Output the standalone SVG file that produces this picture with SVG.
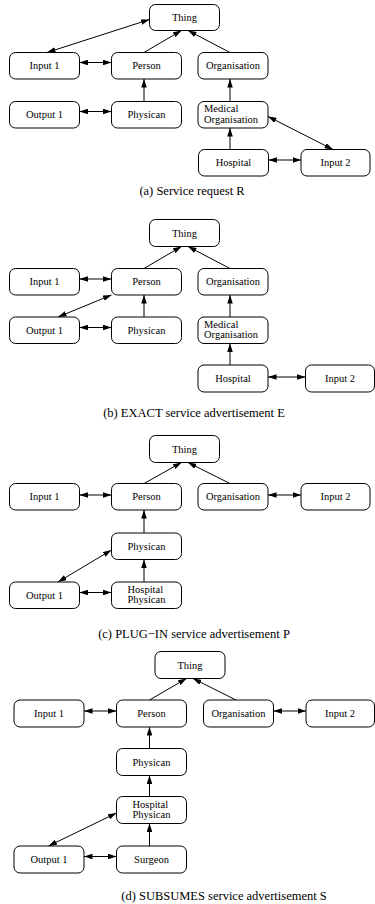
<svg xmlns="http://www.w3.org/2000/svg" width="375" height="904" viewBox="0 0 375 904">
<style>
rect.n{fill:#fff;stroke:#000;stroke-width:1}
text{font-family:"Liberation Serif","Times New Roman",serif;font-size:10.5px;fill:#000}
text.c{text-anchor:middle}
text.cap{font-size:12.5px;text-anchor:middle}
#edges line{stroke:#000;stroke-width:1}
.s{marker-end:url(#ah)}
.d{marker-start:url(#ah);marker-end:url(#ah)}
</style>
<defs>
<marker id="ah" viewBox="0 0 8.5 5.6" refX="8.5" refY="2.8" markerWidth="8.5" markerHeight="5.6" markerUnits="userSpaceOnUse" orient="auto-start-reverse">
<path d="M0,0 L8.5,2.8 L0,5.6 z" fill="#000"/>
</marker>
</defs>
<rect width="375" height="904" fill="#fff"/>

<g id="edges">
<!-- panel a -->
<line class="d" x1="47" y1="52.5" x2="149.5" y2="19.5"/>
<line class="s" x1="144" y1="52.5" x2="181.5" y2="30.5"/>
<line class="s" x1="230" y1="52.5" x2="188" y2="30.5"/>
<line class="d" x1="79.5" y1="62.5" x2="111.5" y2="62.5"/>
<line class="s" x1="144" y1="101.5" x2="144" y2="79"/>
<line class="d" x1="79.5" y1="111.5" x2="111.5" y2="111.5"/>
<line class="s" x1="230" y1="101.5" x2="230" y2="79"/>
<line class="s" x1="230" y1="149.5" x2="230" y2="128"/>
<line class="d" x1="268" y1="116.5" x2="333" y2="149.5"/>
<line class="d" x1="268.5" y1="160" x2="301" y2="160"/>
<!-- panel b -->
<line class="s" x1="144" y1="268.5" x2="181.5" y2="246.5"/>
<line class="s" x1="230" y1="268.5" x2="188" y2="246.5"/>
<line class="d" x1="79.5" y1="279" x2="111.5" y2="279"/>
<line class="d" x1="58" y1="317" x2="111.5" y2="295"/>
<line class="s" x1="144" y1="317" x2="144" y2="295"/>
<line class="d" x1="79.5" y1="327.5" x2="111.5" y2="327.5"/>
<line class="s" x1="230" y1="317" x2="230" y2="295"/>
<line class="s" x1="230" y1="365" x2="230" y2="343.5"/>
<line class="d" x1="268" y1="377" x2="305.5" y2="377"/>
<!-- panel c -->
<line class="s" x1="144" y1="483.5" x2="181.5" y2="462.5"/>
<line class="s" x1="230" y1="483.5" x2="188" y2="462.5"/>
<line class="d" x1="79.5" y1="495" x2="111.5" y2="495"/>
<line class="d" x1="268" y1="495" x2="301" y2="495"/>
<line class="s" x1="144" y1="533" x2="144" y2="510"/>
<line class="s" x1="144" y1="582" x2="144" y2="559.5"/>
<line class="d" x1="58" y1="582" x2="111.5" y2="550"/>
<line class="d" x1="79.5" y1="592.5" x2="111.5" y2="592.5"/>
<!-- panel d -->
<line class="s" x1="149.5" y1="700" x2="186.5" y2="678.5"/>
<line class="s" x1="236" y1="700" x2="193" y2="678.5"/>
<line class="d" x1="84" y1="711" x2="116.5" y2="711"/>
<line class="d" x1="273.5" y1="711" x2="306" y2="711"/>
<line class="s" x1="149.5" y1="748.5" x2="149.5" y2="727"/>
<line class="s" x1="149.5" y1="796.5" x2="149.5" y2="775.5"/>
<line class="d" x1="48.5" y1="846" x2="116.5" y2="813"/>
<line class="d" x1="84" y1="856.5" x2="116.5" y2="856.5"/>
<line class="s" x1="149.5" y1="846" x2="149.5" y2="823.5"/>
</g>

<!-- panel a nodes -->
<g id="a-thing"><rect class="n" x="149.5" y="4.5" width="70" height="26" rx="6"/><text class="c" x="184.5" y="21">Thing</text></g>
<g id="a-input1"><rect class="n" x="9.5" y="52.5" width="70" height="26.5" rx="6"/><text class="c" x="44.5" y="69">Input 1</text></g>
<g id="a-person"><rect class="n" x="111.5" y="52.5" width="70" height="26.5" rx="6"/><text class="c" x="146.5" y="69">Person</text></g>
<g id="a-organisation"><rect class="n" x="198" y="52.5" width="70" height="26.5" rx="6"/><text class="c" x="233" y="69">Organisation</text></g>
<g id="a-output1"><rect class="n" x="9.5" y="101.5" width="70" height="26.5" rx="6"/><text class="c" x="44.5" y="118">Output 1</text></g>
<g id="a-physican"><rect class="n" x="111.5" y="101.5" width="70" height="26.5" rx="6"/><text class="c" x="146.5" y="118">Physican</text></g>
<g id="a-medorg"><rect class="n" x="198" y="101.5" width="70" height="26.5" rx="6"/><text x="204" y="112">Medical</text><text x="204" y="122.5">Organisation</text></g>
<g id="a-hospital"><rect class="n" x="198.5" y="149.5" width="70" height="26.5" rx="6"/><text class="c" x="233.5" y="166">Hospital</text></g>
<g id="a-input2"><rect class="n" x="301" y="149.5" width="69" height="26.5" rx="6"/><text class="c" x="335.5" y="166">Input 2</text></g>
<text class="cap" x="192" y="195">(a) Service request R</text>

<!-- panel b nodes -->
<g id="b-thing"><rect class="n" x="149.5" y="219.5" width="70" height="27" rx="6"/><text class="c" x="184.5" y="236.5">Thing</text></g>
<g id="b-input1"><rect class="n" x="9.5" y="268.5" width="70" height="26.5" rx="6"/><text class="c" x="44.5" y="285">Input 1</text></g>
<g id="b-person"><rect class="n" x="111.5" y="268.5" width="70" height="26.5" rx="6"/><text class="c" x="146.5" y="285">Person</text></g>
<g id="b-organisation"><rect class="n" x="198" y="268.5" width="70" height="26.5" rx="6"/><text class="c" x="233" y="285">Organisation</text></g>
<g id="b-output1"><rect class="n" x="9.5" y="317" width="70" height="26.5" rx="6"/><text class="c" x="44.5" y="333.5">Output 1</text></g>
<g id="b-physican"><rect class="n" x="111.5" y="317" width="70" height="26.5" rx="6"/><text class="c" x="146.5" y="333.5">Physican</text></g>
<g id="b-medorg"><rect class="n" x="198" y="317" width="70" height="26.5" rx="6"/><text x="204" y="327.5">Medical</text><text x="204" y="338">Organisation</text></g>
<g id="b-hospital"><rect class="n" x="198" y="365" width="70" height="27" rx="6"/><text class="c" x="233" y="382">Hospital</text></g>
<g id="b-input2"><rect class="n" x="305.5" y="365" width="69" height="27" rx="6"/><text class="c" x="340" y="382">Input 2</text></g>
<text class="cap" x="194" y="417">(b) EXACT service advertisement E</text>

<!-- panel c nodes -->
<g id="c-thing"><rect class="n" x="149.5" y="435.5" width="70" height="27" rx="6"/><text class="c" x="184.5" y="452.5">Thing</text></g>
<g id="c-input1"><rect class="n" x="9.5" y="483.5" width="70" height="26.5" rx="6"/><text class="c" x="44.5" y="500">Input 1</text></g>
<g id="c-person"><rect class="n" x="111.5" y="483.5" width="70" height="26.5" rx="6"/><text class="c" x="146.5" y="500">Person</text></g>
<g id="c-organisation"><rect class="n" x="198" y="483.5" width="70" height="26.5" rx="6"/><text class="c" x="233" y="500">Organisation</text></g>
<g id="c-input2"><rect class="n" x="301" y="483.5" width="69" height="26.5" rx="6"/><text class="c" x="335.5" y="500">Input 2</text></g>
<g id="c-physican"><rect class="n" x="111.5" y="533" width="70" height="26.5" rx="6"/><text class="c" x="146.5" y="549.5">Physican</text></g>
<g id="c-output1"><rect class="n" x="9.5" y="582" width="70" height="26.5" rx="6"/><text class="c" x="44.5" y="598.5">Output 1</text></g>
<g id="c-hospphys"><rect class="n" x="111.5" y="582" width="70" height="26.5" rx="6"/><text x="127.5" y="592.5">Hospital</text><text x="127.5" y="603">Physican</text></g>
<text class="cap" x="194" y="638">(c) PLUG−IN service advertisement P</text>

<!-- panel d nodes -->
<g id="d-thing"><rect class="n" x="155" y="651.5" width="70" height="27" rx="6"/><text class="c" x="190" y="668.5">Thing</text></g>
<g id="d-input1"><rect class="n" x="14" y="700" width="70" height="27" rx="6"/><text class="c" x="49" y="717">Input 1</text></g>
<g id="d-person"><rect class="n" x="116.5" y="700" width="70" height="27" rx="6"/><text class="c" x="151.5" y="717">Person</text></g>
<g id="d-organisation"><rect class="n" x="203.5" y="700" width="70" height="27" rx="6"/><text class="c" x="238.5" y="717">Organisation</text></g>
<g id="d-input2"><rect class="n" x="306" y="700" width="68.5" height="27" rx="6"/><text class="c" x="340" y="717">Input 2</text></g>
<g id="d-physican"><rect class="n" x="116.5" y="748.5" width="70" height="27" rx="6"/><text class="c" x="151.5" y="765.5">Physican</text></g>
<g id="d-hospphys"><rect class="n" x="116.5" y="796.5" width="70" height="27" rx="6"/><text x="132.5" y="807.5">Hospital</text><text x="132.5" y="818">Physican</text></g>
<g id="d-output1"><rect class="n" x="14" y="846" width="70" height="27" rx="6"/><text class="c" x="49" y="863">Output 1</text></g>
<g id="d-surgeon"><rect class="n" x="116.5" y="846" width="70" height="27" rx="6"/><text class="c" x="151.5" y="863">Surgeon</text></g>
<text class="cap" x="224" y="900">(d) SUBSUMES service advertisement S</text>
</svg>
